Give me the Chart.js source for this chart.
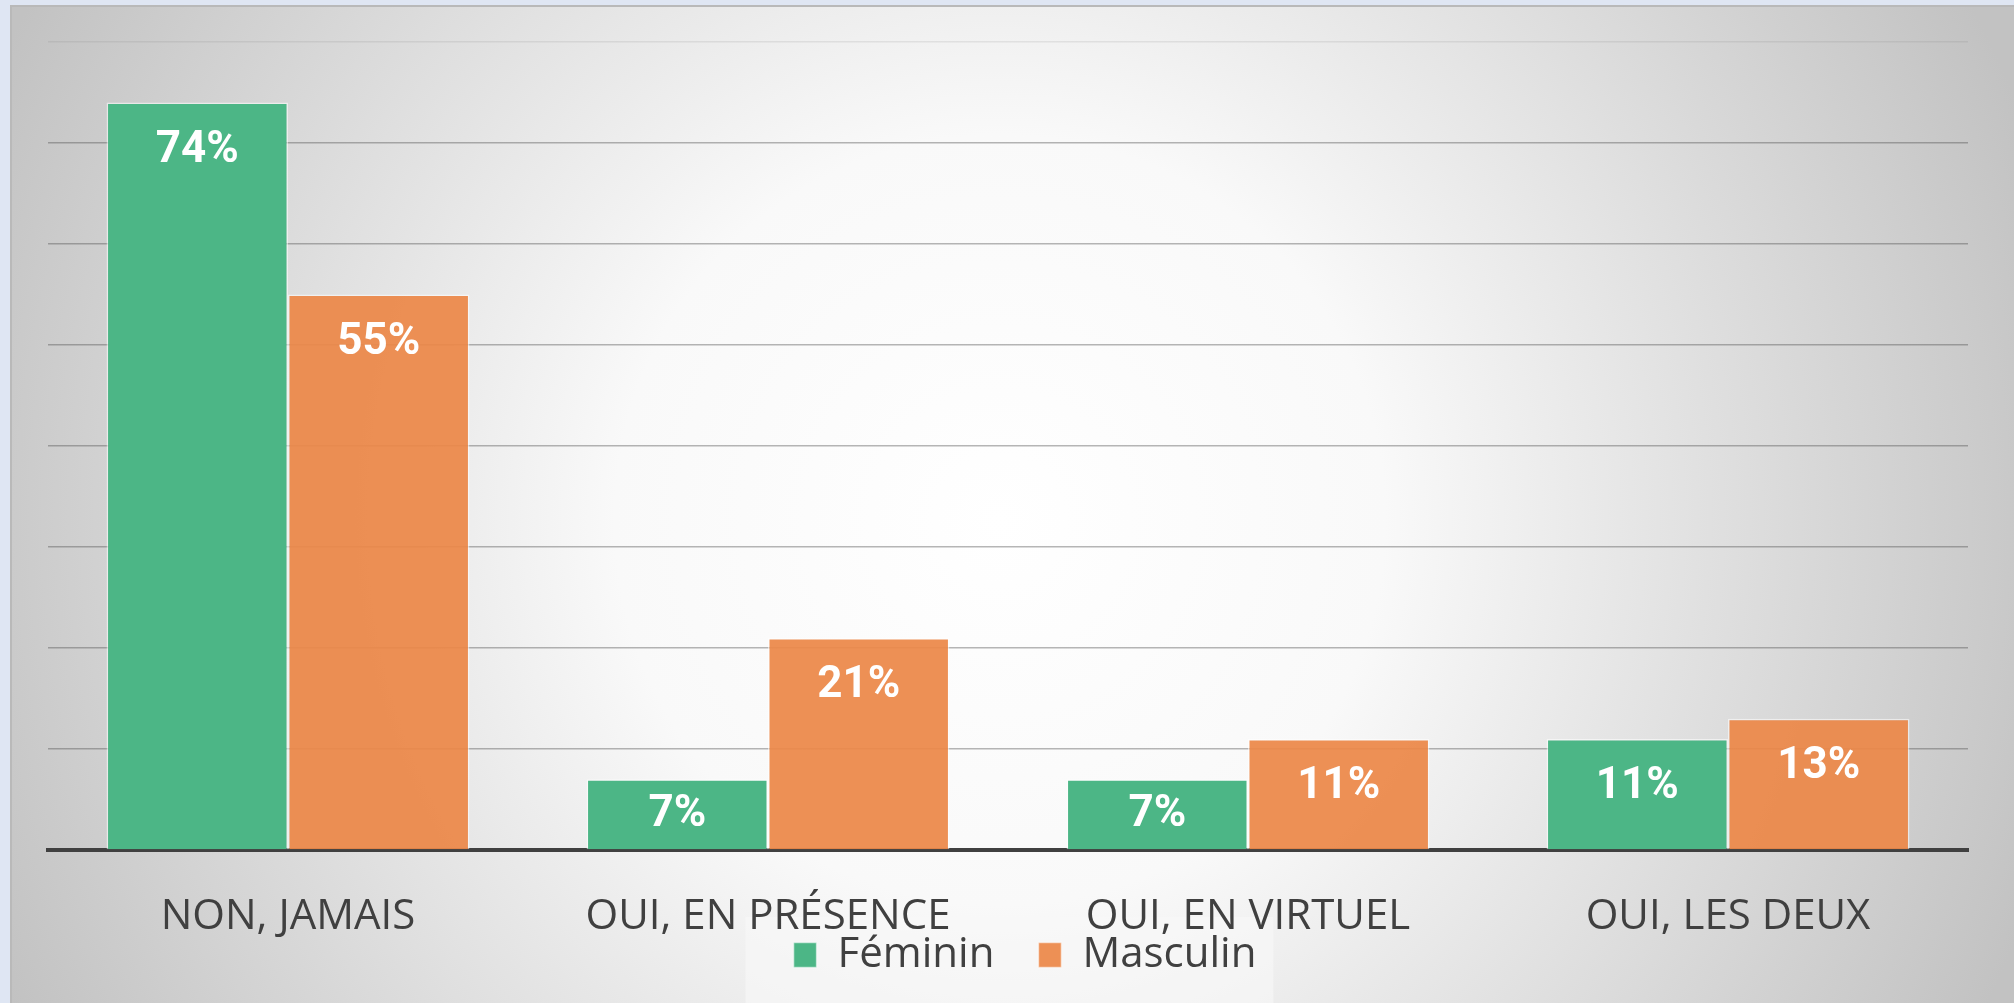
<!DOCTYPE html>
<html><head><meta charset="utf-8">
<script src="https://cdn.jsdelivr.net/npm/chart.js@4.4.0/dist/chart.umd.min.js"></script>
<style>html,body{margin:0;padding:0;background:#dfe6f3;overflow:hidden}canvas{display:block}</style>
</head><body>
<canvas id="c" width="2014" height="1003"></canvas>
<script>
const categories = ['NON, JAMAIS', 'OUI, EN PRÉSENCE', 'OUI, EN VIRTUEL', 'OUI, LES DEUX'];
const feminin = [74, 7, 7, 11];
const masculin = [55, 21, 11, 13];
const seriesNames = ['Féminin', 'Masculin'];
const yMin = 0, yMax = 80, yStep = 10;

const bgPlugin = {
  id: 'bg',
  beforeDraw(chart) {
    // let x tick labels overflow into the legend band (the reference overlaps them)
    if (chart.scales.x) chart.scales.x._computeLabelArea = () => undefined;
    const ctx = chart.ctx, W = chart.width, H = chart.height;
    ctx.save();
    ctx.fillStyle = '#dfe6f3';
    ctx.fillRect(0, 0, W, H);
    const g = ctx.createRadialGradient(1000, 520, 0, 1000, 520, 1100);
    g.addColorStop(0, '#ffffff');
    g.addColorStop(0.35, '#f9f9f9');
    g.addColorStop(1, '#c2c2c2');
    ctx.fillStyle = g;
    ctx.fillRect(10, 5, W - 10, H - 5);
    ctx.strokeStyle = '#b9b9b9';
    ctx.lineWidth = 2;
    ctx.beginPath();
    ctx.moveTo(11, H); ctx.lineTo(11, 6); ctx.lineTo(W, 6);
    ctx.stroke();
    ctx.restore();
  }
};

const legendShiftX = 17;
const legendBoxPlugin = {
  id: 'legendBox',
  afterLayout(chart) {
    const lg = chart.legend;
    if (!lg || lg._wrappedBox) return;
    const orig = lg.draw.bind(lg);
    lg.draw = function () {
      const ctx = chart.ctx;
      ctx.save();
      ctx.translate(legendShiftX, 0);
      const boxes = lg.legendHitBoxes || [];
      if (boxes.length) {
        const left = Math.min(...boxes.map(b => b.left)) - 48;
        const right = Math.max(...boxes.map(b => b.left + b.width)) + 17;
        const top = boxes[0].top + boxes[0].height / 2 - 38;
        ctx.fillStyle = 'rgba(248,248,248,0.6)';
        ctx.fillRect(left, top, right - left, chart.height - top);
      }
      orig();
      ctx.restore();
    };
    lg._wrappedBox = true;
  }
};

const labelPlugin = {
  id: 'barLabels',
  afterDatasetsDraw(chart) {
    const ctx = chart.ctx;
    ctx.save();
    ctx.fillStyle = '#ffffff';
    ctx.font = 'bold 44px Roboto';
    ctx.textAlign = 'center';
    ctx.textBaseline = 'middle';
    chart.data.datasets.forEach((ds, i) => {
      chart.getDatasetMeta(i).data.forEach((bar, j) => {
        const y = Math.min(bar.y + 48, bar.base - 34);
        ctx.fillText(ds.data[j] + '%', bar.x, y);
      });
    });
    ctx.restore();
  }
};

new Chart(document.getElementById('c'), {
  type: 'bar',
  data: {
    labels: categories,
    datasets: [
      { label: seriesNames[0], data: feminin, backgroundColor: '#4cb686', borderColor: 'rgba(255,255,255,0.55)', borderWidth: 1.5,
        categoryPercentage: 0.756, barPercentage: 1 },
      { label: seriesNames[1], data: masculin, backgroundColor: 'rgba(236,136,72,0.93)', borderColor: 'rgba(255,255,255,0.55)', borderWidth: 1.5,
        categoryPercentage: 0.756, barPercentage: 1 }
    ]
  },
  options: {
    responsive: false,
    animation: false,
    events: [],
    layout: { padding: { top: 42, left: 48, right: 46, bottom: 17 } },
    scales: {
      x: {
        z: -1,
        grid: { display: false, drawTicks: false },
        border: { display: true, color: '#404040', width: 4 },
        ticks: { color: '#404040', font: { family: '"Open Sans"', size: 42 }, padding: 42, maxRotation: 0, autoSkip: false },
        afterFit(scale) { scale.height = 40; }
      },
      y: {
        min: yMin, max: yMax,
        ticks: { display: false, stepSize: yStep },
        grid: { drawTicks: false, lineWidth: 1.5,
          color: ctx => ctx.tick && ctx.tick.value === yMax ? 'rgba(120,120,120,0.15)' : 'rgba(80,80,80,0.42)' },
        border: { display: false }
      }
    },
    plugins: {
      legend: {
        position: 'bottom',
        labels: { color: '#404040', font: { family: '"Open Sans"', size: 42, lineHeight: 1 }, boxWidth: 23, boxHeight: 25, padding: 44 }
      },
      tooltip: { enabled: false }
    }
  },
  plugins: [bgPlugin, legendBoxPlugin, labelPlugin]
});
</script>
</body></html>
